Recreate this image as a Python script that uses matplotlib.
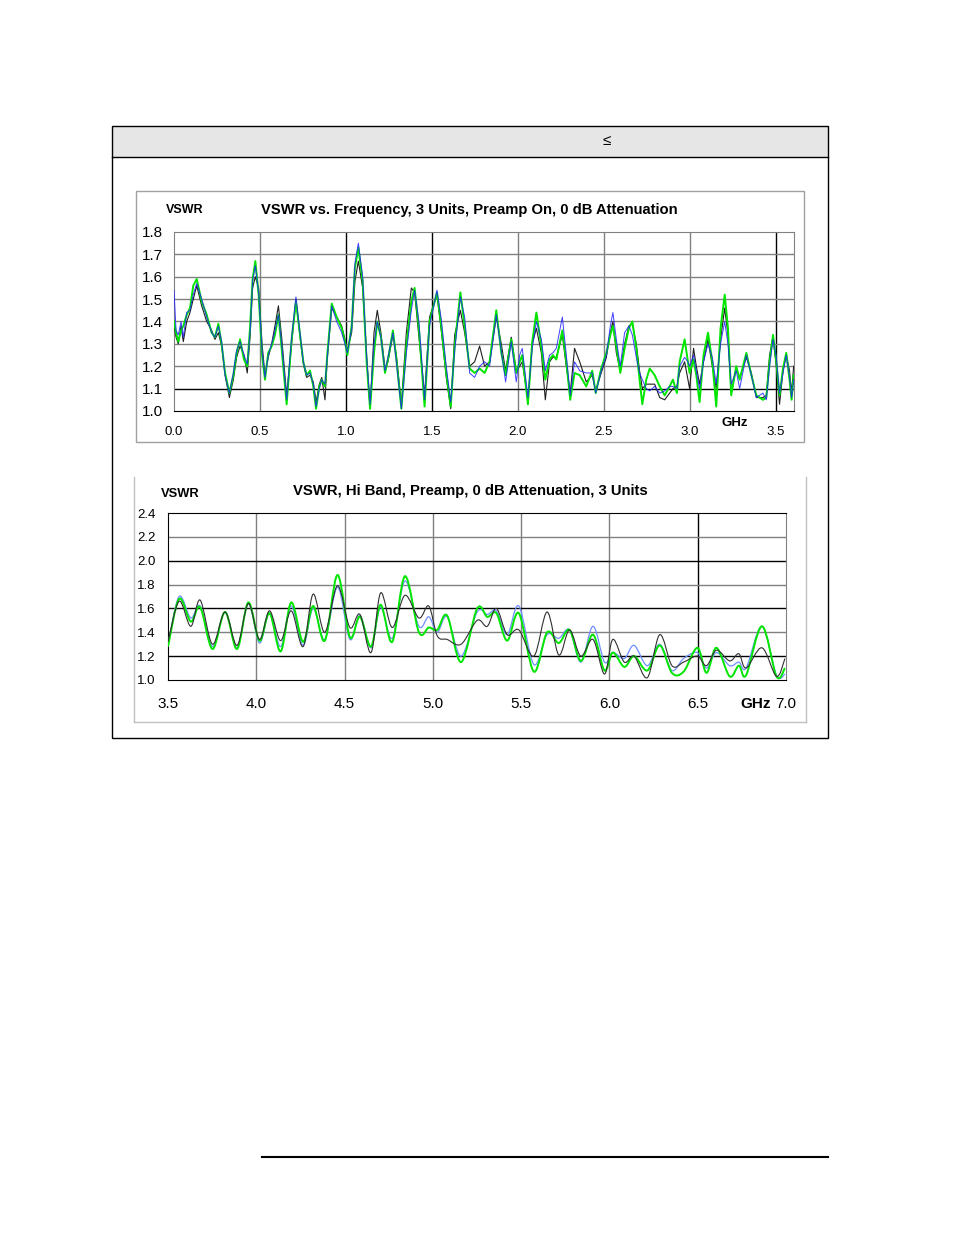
import numpy as np
import matplotlib.pyplot as plt
from matplotlib.patches import Rectangle, PathPatch
from matplotlib.lines import Line2D
from matplotlib.path import Path

plt.rcParams['font.family'] = ['Liberation Sans', 'DejaVu Sans']

# ---- top chart: 0 - 3.6 GHz ----
top_f = [0.000, 0.012, 0.025, 0.041, 0.054, 0.074, 0.093, 0.112, 0.132, 0.161,
         0.190, 0.219, 0.238, 0.258, 0.277, 0.297, 0.322, 0.345, 0.364, 0.384,
         0.407, 0.426, 0.442, 0.457, 0.473, 0.492, 0.512, 0.529, 0.548, 0.568,
         0.587, 0.607, 0.626, 0.655, 0.684, 0.709, 0.733, 0.752, 0.771, 0.791,
         0.810, 0.826, 0.845, 0.859, 0.878, 0.891, 0.917, 0.946, 0.975, 0.994,
         1.008, 1.033, 1.052, 1.072, 1.097, 1.120, 1.140, 1.163, 1.182, 1.203,
         1.227, 1.244, 1.273, 1.293, 1.322, 1.351, 1.380, 1.399, 1.424, 1.457,
         1.486, 1.529, 1.554, 1.583, 1.609, 1.632, 1.665, 1.690, 1.719, 1.748,
         1.777, 1.806, 1.835, 1.874, 1.903, 1.928, 1.961, 1.990, 2.010, 2.025,
         2.058, 2.083, 2.107, 2.136, 2.159, 2.184, 2.203, 2.223, 2.258, 2.281,
         2.304, 2.329, 2.359, 2.397, 2.432, 2.452, 2.484, 2.514, 2.537, 2.552,
         2.572, 2.595, 2.620, 2.645, 2.665, 2.688, 2.707, 2.723, 2.746, 2.766,
         2.795, 2.824, 2.853, 2.882, 2.901, 2.924, 2.940, 2.969, 2.988, 2.998,
         3.021, 3.037, 3.056, 3.079, 3.105, 3.130, 3.153, 3.178, 3.202, 3.221,
         3.240, 3.269, 3.289, 3.328, 3.357, 3.386, 3.424, 3.444, 3.463, 3.483,
         3.502, 3.521, 3.541, 3.560, 3.579, 3.591, 3.603]
top_green = [1.40, 1.35, 1.31, 1.36, 1.38, 1.43, 1.46, 1.56, 1.59, 1.49,
             1.43, 1.35, 1.33, 1.39, 1.30, 1.17, 1.08, 1.16, 1.26, 1.32,
             1.23, 1.20, 1.37, 1.59, 1.67, 1.52, 1.25, 1.14, 1.26, 1.29,
             1.34, 1.43, 1.28, 1.03, 1.32, 1.49, 1.34, 1.22, 1.16, 1.18,
             1.11, 1.01, 1.11, 1.14, 1.11, 1.25, 1.48, 1.42, 1.37, 1.31,
             1.25, 1.38, 1.64, 1.73, 1.58, 1.22, 1.01, 1.26, 1.40, 1.33,
             1.17, 1.23, 1.36, 1.23, 1.01, 1.29, 1.49, 1.55, 1.37, 1.02,
             1.40, 1.53, 1.38, 1.17, 1.02, 1.29, 1.53, 1.38, 1.19, 1.17,
             1.19, 1.17, 1.22, 1.45, 1.26, 1.16, 1.32, 1.17, 1.22, 1.25,
             1.03, 1.31, 1.44, 1.29, 1.14, 1.23, 1.25, 1.23, 1.36, 1.22,
             1.05, 1.17, 1.16, 1.11, 1.18, 1.08, 1.19, 1.26, 1.34, 1.38,
             1.29, 1.17, 1.28, 1.37, 1.40, 1.28, 1.14, 1.03, 1.14, 1.19,
             1.16, 1.11, 1.07, 1.11, 1.14, 1.08, 1.22, 1.32, 1.22, 1.17,
             1.23, 1.16, 1.04, 1.25, 1.35, 1.22, 1.02, 1.37, 1.52, 1.37,
             1.07, 1.20, 1.14, 1.26, 1.16, 1.07, 1.05, 1.06, 1.22, 1.34,
             1.22, 1.07, 1.19, 1.26, 1.14, 1.05, 1.16]
top_blue = [1.54, 1.36, 1.34, 1.40, 1.33, 1.44, 1.45, 1.52, 1.57, 1.50,
            1.42, 1.35, 1.33, 1.38, 1.31, 1.16, 1.08, 1.17, 1.27, 1.31,
            1.25, 1.21, 1.35, 1.58, 1.65, 1.53, 1.27, 1.15, 1.25, 1.30,
            1.36, 1.43, 1.30, 1.05, 1.33, 1.51, 1.35, 1.22, 1.16, 1.17,
            1.12, 1.02, 1.10, 1.14, 1.12, 1.24, 1.47, 1.40, 1.35, 1.30,
            1.26, 1.37, 1.66, 1.75, 1.60, 1.24, 1.03, 1.30, 1.40, 1.33,
            1.18, 1.24, 1.35, 1.22, 1.01, 1.26, 1.45, 1.54, 1.40, 1.05,
            1.38, 1.54, 1.41, 1.20, 1.04, 1.27, 1.51, 1.42, 1.17, 1.15,
            1.20, 1.22, 1.20, 1.43, 1.27, 1.13, 1.31, 1.13, 1.25, 1.28,
            1.06, 1.28, 1.40, 1.32, 1.18, 1.25, 1.26, 1.28, 1.42, 1.25,
            1.07, 1.22, 1.18, 1.17, 1.17, 1.08, 1.18, 1.25, 1.38, 1.44,
            1.32, 1.20, 1.35, 1.38, 1.34, 1.24, 1.17, 1.14, 1.10, 1.09,
            1.11, 1.08, 1.09, 1.11, 1.11, 1.10, 1.20, 1.24, 1.22, 1.20,
            1.25, 1.18, 1.10, 1.22, 1.30, 1.24, 1.12, 1.30, 1.40, 1.30,
            1.12, 1.18, 1.10, 1.25, 1.16, 1.06, 1.08, 1.05, 1.20, 1.32,
            1.24, 1.08, 1.17, 1.25, 1.15, 1.06, 1.14]
top_black = [1.38, 1.33, 1.30, 1.38, 1.31, 1.40, 1.44, 1.50, 1.56, 1.47,
             1.40, 1.36, 1.32, 1.35, 1.29, 1.16, 1.06, 1.14, 1.24, 1.29,
             1.25, 1.17, 1.33, 1.55, 1.60, 1.55, 1.30, 1.16, 1.24, 1.30,
             1.38, 1.47, 1.33, 1.07, 1.30, 1.50, 1.33, 1.21, 1.15, 1.16,
             1.13, 1.04, 1.12, 1.15, 1.05, 1.23, 1.46, 1.42, 1.38, 1.32,
             1.27, 1.35, 1.58, 1.67, 1.55, 1.25, 1.01, 1.35, 1.45, 1.35,
             1.19, 1.22, 1.34, 1.25, 1.03, 1.35, 1.55, 1.53, 1.33, 1.07,
             1.42, 1.52, 1.36, 1.15, 1.01, 1.34, 1.45, 1.35, 1.20, 1.22,
             1.29, 1.20, 1.22, 1.42, 1.30, 1.18, 1.33, 1.18, 1.20, 1.22,
             1.05, 1.30, 1.37, 1.26, 1.05, 1.22, 1.24, 1.24, 1.34, 1.20,
             1.08, 1.28, 1.22, 1.13, 1.16, 1.09, 1.17, 1.24, 1.35, 1.40,
             1.26, 1.18, 1.30, 1.38, 1.39, 1.30, 1.18, 1.10, 1.12, 1.12,
             1.12, 1.06, 1.05, 1.08, 1.10, 1.11, 1.17, 1.22, 1.14, 1.10,
             1.28, 1.20, 1.12, 1.22, 1.32, 1.20, 1.10, 1.32, 1.46, 1.34,
             1.08, 1.19, 1.15, 1.24, 1.17, 1.06, 1.06, 1.07, 1.25, 1.33,
             1.20, 1.03, 1.18, 1.25, 1.18, 1.08, 1.20]
top_xticks = [0.0, 0.5, 1.0, 1.5, 2.0, 2.5, 3.0, 3.5]
top_yticks = [1.0, 1.1, 1.2, 1.3, 1.4, 1.5, 1.6, 1.7, 1.8]

# ---- bottom chart: 3.5 - 7.0 GHz ----
bot_f = [3.500, 3.563, 3.629, 3.682, 3.752, 3.823, 3.891, 3.955, 4.018, 4.075,
         4.138, 4.198, 4.265, 4.322, 4.388, 4.460, 4.530, 4.587, 4.650, 4.704,
         4.770, 4.842, 4.921, 4.977, 5.025, 5.081, 5.160, 5.251, 5.308, 5.360,
         5.421, 5.487, 5.572, 5.647, 5.713, 5.774, 5.838, 5.907, 5.972, 6.019,
         6.084, 6.140, 6.215, 6.285, 6.354, 6.420, 6.498, 6.550, 6.606, 6.681,
         6.733, 6.774, 6.864, 6.946, 6.994]
bot_green = [1.28, 1.68, 1.49, 1.61, 1.26, 1.57, 1.26, 1.65, 1.33, 1.56,
             1.24, 1.65, 1.32, 1.62, 1.33, 1.88, 1.36, 1.53, 1.28, 1.63,
             1.32, 1.87, 1.40, 1.44, 1.42, 1.54, 1.15, 1.60, 1.53, 1.56,
             1.33, 1.56, 1.07, 1.40, 1.31, 1.42, 1.16, 1.38, 1.08, 1.23,
             1.11, 1.20, 1.08, 1.29, 1.06, 1.07, 1.27, 1.06, 1.27, 1.03,
             1.12, 1.04, 1.45, 1.03, 1.10]
bot_blue = [1.30, 1.70, 1.52, 1.62, 1.28, 1.57, 1.27, 1.64, 1.31, 1.56,
            1.28, 1.62, 1.29, 1.60, 1.34, 1.78, 1.34, 1.54, 1.27, 1.61,
            1.35, 1.83, 1.45, 1.53, 1.40, 1.53, 1.20, 1.57, 1.55, 1.58,
            1.38, 1.62, 1.13, 1.38, 1.35, 1.42, 1.15, 1.45, 1.15, 1.23,
            1.18, 1.29, 1.12, 1.30, 1.08, 1.18, 1.23, 1.10, 1.23, 1.12,
            1.15, 1.10, 1.45, 1.04, 1.05]
bot_black = [1.32, 1.66, 1.45, 1.67, 1.30, 1.57, 1.29, 1.64, 1.34, 1.58,
             1.33, 1.58, 1.28, 1.72, 1.40, 1.79, 1.44, 1.55, 1.23, 1.73,
             1.44, 1.71, 1.52, 1.62, 1.37, 1.34, 1.30, 1.50, 1.45, 1.60,
             1.38, 1.42, 1.20, 1.57, 1.21, 1.42, 1.20, 1.34, 1.05, 1.34,
             1.15, 1.20, 1.02, 1.38, 1.12, 1.15, 1.20, 1.12, 1.25, 1.16,
             1.22, 1.10, 1.27, 1.03, 1.18]
bot_xticks = [3.5, 4.0, 4.5, 5.0, 5.5, 6.0, 6.5, 7.0]
bot_yticks = [1.0, 1.2, 1.4, 1.6, 1.8, 2.0, 2.2, 2.4]

W, H = 954, 1235
fig = plt.figure(figsize=(W / 100, H / 100), dpi=100)


def box(x0, y0, x1, y1, **kw):
    fig.add_artist(Rectangle((x0 / W, 1 - y1 / H), (x1 - x0) / W, (y1 - y0) / H,
                             transform=fig.transFigure, **kw))


def hline(x0, x1, y, **kw):
    fig.add_artist(Line2D([x0 / W, x1 / W], [1 - y / H, 1 - y / H],
                          transform=fig.transFigure, **kw))


def vline(x, y0, y1, **kw):
    fig.add_artist(Line2D([x / W, x / W], [1 - y0 / H, 1 - y1 / H],
                          transform=fig.transFigure, **kw))


def smooth_line(ax, x, y, **kw):
    # Excel-style "smoothed line": Catmull-Rom curve through the points
    p = np.column_stack([x, y])
    n = len(p)
    verts = [p[0]]
    codes = [Path.MOVETO]
    for i in range(n - 1):
        p0 = p[i - 1] if i > 0 else p[i]
        p3 = p[i + 2] if i + 2 < n else p[i + 1]
        verts += [p[i] + (p[i + 1] - p0) / 6, p[i + 1] - (p3 - p[i]) / 6, p[i + 1]]
        codes += [Path.CURVE4] * 3
    ax.add_patch(PathPatch(Path(verts, codes), fill=False, **kw))


# outer table box with grey header band
box(112, 126, 828, 157, facecolor='#e6e6e6', edgecolor='none')
box(112, 126, 828, 738, facecolor='none', edgecolor='black', lw=1)
hline(112, 828, 157, color='black', lw=1)
fig.text(607 / W, 1 - 141 / H, '≤', ha='center', va='center', fontsize=11)

# frames around the two charts
box(136, 191, 804, 442, facecolor='none', edgecolor='#a0a0a0', lw=1)
vline(134, 477, 722, color='#c0c0c0', lw=1)
vline(806, 477, 722, color='#c0c0c0', lw=1)
hline(134, 806, 722, color='#c0c0c0', lw=1)

# footer rule
hline(262, 828, 1157, color='black', lw=1.5)


def grid_lines(ax, xs, ys, dark_x, dark_y):
    for v in xs:
        ax.axvline(v, color='black' if v in dark_x else '#808080', lw=1, zorder=1)
    for v in ys:
        ax.axhline(v, color='black' if v in dark_y else '#808080', lw=1, zorder=1)


# ---- top chart ----
ax1 = fig.add_axes([174 / W, 1 - 411 / H, 620 / W, 179 / H])
ax1.set_xlim(0, 3.605)
ax1.set_ylim(1.0, 1.8)
grid_lines(ax1, top_xticks[1:], top_yticks[1:-1], [1.0, 1.5, 3.5], [1.1])
ax1.plot(top_f, top_black, color='#202020', lw=0.8, zorder=3)
ax1.plot(top_f, top_green, color='#00e600', lw=1.4, zorder=4)
ax1.plot(top_f, top_blue, color='#2020ff', lw=0.7, alpha=0.85, zorder=5)
ax1.set_xticks(top_xticks)
ax1.set_xticklabels([f'{v:.1f}' for v in top_xticks])
ax1.set_yticks(top_yticks)
ax1.set_yticklabels([f'{v:.1f}' for v in top_yticks])
ax1.tick_params(axis='x', length=0, pad=11, labelsize=9.5)
ax1.tick_params(axis='y', length=0, pad=8, labelsize=11)
for s in ['top', 'right', 'left']:
    ax1.spines[s].set_color('#808080')
ax1.spines['bottom'].set_color('black')
fig.text(166 / W, 1 - 210 / H, 'VSWR', fontsize=9, fontweight='bold', va='center')
fig.text(261 / W, 1 - 210 / H, 'VSWR vs. Frequency, 3 Units, Preamp On, 0 dB Attenuation',
         fontsize=10.6, fontweight='bold', va='center')
fig.text(735 / W, 1 - 423 / H, 'GHz', fontsize=9.5, fontweight='bold',
         ha='center', va='center')

# ---- bottom chart ----
ax2 = fig.add_axes([168 / W, 1 - 680 / H, 618 / W, 167 / H])
ax2.set_xlim(3.5, 7.0)
ax2.set_ylim(1.0, 2.4)
grid_lines(ax2, bot_xticks[1:-1], bot_yticks[1:-1], [6.5], [1.2, 1.6, 2.0])
smooth_line(ax2, bot_f, bot_blue, edgecolor='#6f8fff', lw=0.9, zorder=3)
smooth_line(ax2, bot_f, bot_green, edgecolor='#00e600', lw=1.4, zorder=4)
smooth_line(ax2, bot_f, bot_black, edgecolor='#303030', lw=0.8, zorder=5)
ax2.set_xticks(bot_xticks)
ax2.set_xticklabels([f'{v:.1f}' for v in bot_xticks])
ax2.set_yticks(bot_yticks)
ax2.set_yticklabels([f'{v:.1f}' for v in bot_yticks])
ax2.tick_params(axis='x', length=0, pad=12, labelsize=11)
ax2.tick_params(axis='y', length=0, pad=9, labelsize=9.5)
for s in ['top', 'left', 'bottom']:
    ax2.spines[s].set_color('black')
ax2.spines['right'].set_color('#808080')
fig.text(161 / W, 1 - 494 / H, 'VSWR', fontsize=9.3, fontweight='bold', va='center')
fig.text(293 / W, 1 - 491 / H, 'VSWR, Hi Band, Preamp, 0 dB Attenuation, 3 Units',
         fontsize=10.7, fontweight='bold', va='center')
fig.text(756 / W, 1 - 704 / H, 'GHz', fontsize=11, fontweight='bold',
         ha='center', va='center')

fig.savefig('out.png', dpi=100)
